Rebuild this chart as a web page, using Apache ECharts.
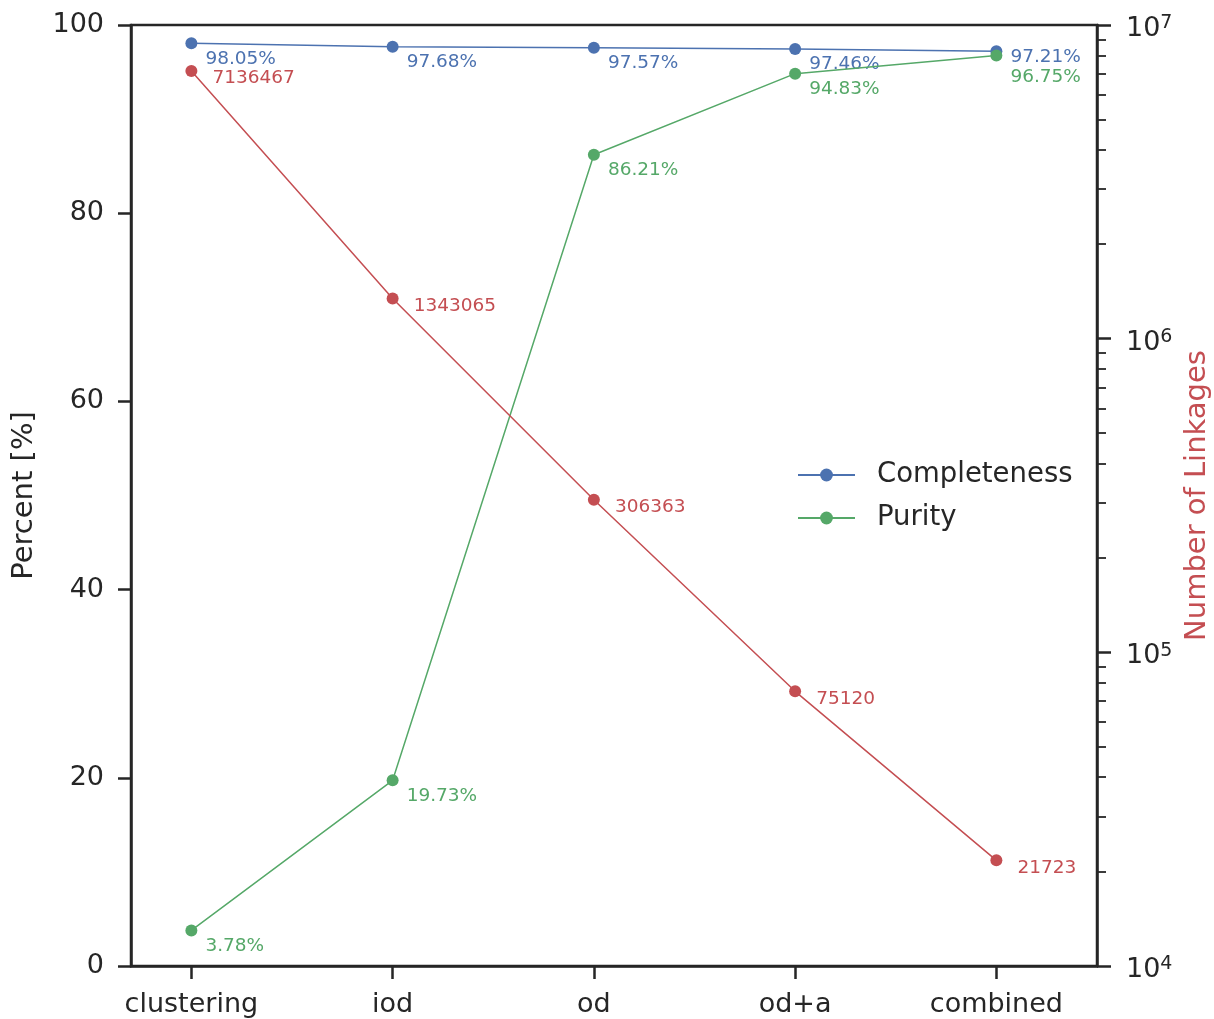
<!DOCTYPE html>
<html>
<head>
<meta charset="utf-8">
<script src="https://cdn.jsdelivr.net/npm/echarts@6/dist/echarts.min.js"></script>
<style>
  html, body { margin: 0; padding: 0; background: #ffffff; }
  #chart { width: 1214px; height: 1019px; }
</style>
</head>
<body>
<div id="chart"></div>
<script>
// Pipeline stages along the x axis
const stages = ['clustering', 'iod', 'od', 'od+a', 'combined'];
// Percentages per stage
const completeness = [98.05, 97.68, 97.57, 97.46, 97.21];
const purity = [3.78, 19.73, 86.21, 94.83, 96.75];
// Number of linkages per stage (log scale, right axis)
const linkages = [7136467, 1343065, 306363, 75120, 21723];
// Tick values
const percentTicks = [0, 20, 40, 60, 80, 100];
const logMajorTicks = [1e4, 1e5, 1e6, 1e7];
const logMinorTicks = [];
[1e4, 1e5, 1e6].forEach(function (d) {
  for (let k = 2; k <= 9; k++) logMinorTicks.push(k * d);
});

const INK = '#262626';
const BLUE = '#4C72B0';
const GREEN = '#55A868';
const RED = '#C44E52';
const FONT = 'DejaVu Sans';
const LABEL_SIZE = 18.5;

const stageIdx = stages.map(function (_, i) { return i; });

// Annotation offsets (relative to the marker box); the last stage is nudged
// so the two close percentages don't collide.
const pctOffset = [20, 21.5];
const pctOffsetLast = { Completeness: [20, 12], Purity: [20, 27.5] };

const pctPoints = function (arr, name) {
  return arr.map(function (v, i) {
    const item = { value: [i, v] };
    if (i === arr.length - 1 && pctOffsetLast[name]) {
      item.label = { position: pctOffsetLast[name] };
    }
    return item;
  });
};

const pctLabel = function (color) {
  return {
    show: true,
    position: pctOffset,
    align: 'left',
    verticalAlign: 'middle',
    color: color,
    fontFamily: FONT,
    fontSize: LABEL_SIZE,
    formatter: function (p) { return p.value[1].toFixed(2) + '%'; }
  };
};

const logLabelFmt = function (v) {
  return '{b|10}{s|' + Math.round(Math.log10(v)) + '}';
};

const chart = echarts.init(document.getElementById('chart'), null, { renderer: 'canvas' });

chart.setOption({
  animation: false,
  backgroundColor: '#ffffff',
  textStyle: { fontFamily: FONT, color: INK },
  grid: {
    left: 131, right: 117, top: 25, bottom: 53,
    outerBoundsMode: 'none',
    containLabel: false,
    show: true, borderColor: INK, borderWidth: 2.5, backgroundColor: 'transparent'
  },
  legend: {
    orient: 'vertical',
    left: 792,
    top: 456,
    itemWidth: 57,
    itemHeight: 16,
    itemGap: 15,
    data: ['Completeness', 'Purity'],
    textStyle: { fontFamily: FONT, fontSize: 27.5, color: INK, padding: [0, 0, 0, 17] }
  },
  xAxis: {
    type: 'value',
    min: -0.3,
    max: 4.5,
    splitLine: { show: false },
    axisLine: { show: true, onZero: false, lineStyle: { color: INK, width: 2.5 } },
    axisTick: { show: true, length: 13, customValues: stageIdx, lineStyle: { color: INK, width: 2.5 } },
    axisLabel: {
      customValues: stageIdx,
      margin: 25,
      fontFamily: FONT,
      fontSize: 27,
      color: INK,
      formatter: function (v) { return stages[Math.round(v)]; }
    }
  },
  yAxis: [
    {
      type: 'value',
      min: 0,
      max: 100,
      interval: 20,
      position: 'left',
      name: 'Percent [%]',
      nameLocation: 'middle',
      nameRotate: 90,
      nameGap: 92,
      nameTextStyle: { fontFamily: FONT, fontSize: 29, color: INK },
      splitLine: { show: false },
      axisLine: { show: true, onZero: false, lineStyle: { color: INK, width: 2.5 } },
      axisTick: { show: true, length: 13, customValues: percentTicks, lineStyle: { color: INK, width: 2.5 } },
      axisLabel: { margin: 27, padding: [4, 0, 0, 0], fontFamily: FONT, fontSize: 27, color: INK }
    },
    {
      type: 'log',
      logBase: 10,
      min: 1e4,
      max: 1e7,
      position: 'right',
      name: 'Number of Linkages',
      nameLocation: 'middle',
      nameRotate: 90,
      nameGap: 86,
      nameTextStyle: { fontFamily: FONT, fontSize: 29, color: RED },
      splitLine: { show: false },
      axisLine: { show: true, onZero: false, lineStyle: { color: INK, width: 2.5 } },
      axisTick: { show: true, length: 14, customValues: logMajorTicks, lineStyle: { color: INK, width: 2.5 } },
      axisLabel: {
        customValues: logMajorTicks,
        margin: 29,
        padding: [8, 0, 0, 0],
        formatter: logLabelFmt,
        rich: {
          b: { fontFamily: FONT, fontSize: 27, color: INK, lineHeight: 30 },
          s: { fontFamily: FONT, fontSize: 19, color: INK, verticalAlign: 'top', lineHeight: 30, padding: [0, 0, 14, 0] }
        }
      }
    },
    {
      // minor ticks of the log axis
      type: 'log',
      logBase: 10,
      min: 1e4,
      max: 1e7,
      position: 'right',
      splitLine: { show: false },
      axisLine: { show: false, onZero: false },
      axisTick: { show: true, length: 9, customValues: logMinorTicks, lineStyle: { color: INK, width: 1.8 } },
      axisLabel: { show: false }
    }
  ],
  series: [
    {
      name: 'Completeness',
      type: 'line',
      yAxisIndex: 0,
      data: pctPoints(completeness, 'Completeness'),
      symbol: 'circle',
      symbolSize: 12,
      lineStyle: { color: BLUE, width: 1.5 },
      itemStyle: { color: BLUE },
      label: pctLabel(BLUE),
      labelLayout: { hideOverlap: false },
      z: 2
    },
    {
      name: 'Purity',
      type: 'line',
      yAxisIndex: 0,
      data: pctPoints(purity, 'Purity'),
      symbol: 'circle',
      symbolSize: 12,
      lineStyle: { color: GREEN, width: 1.5 },
      itemStyle: { color: GREEN },
      label: pctLabel(GREEN),
      labelLayout: { hideOverlap: false },
      z: 3
    },
    {
      name: 'Linkages',
      type: 'line',
      yAxisIndex: 1,
      data: linkages.map(function (v, i) { return [i, v]; }),
      symbol: 'circle',
      symbolSize: 12,
      lineStyle: { color: RED, width: 1.5 },
      itemStyle: { color: RED },
      label: {
        show: true,
        position: [27, 13.5],
        align: 'left',
        verticalAlign: 'middle',
        color: RED,
        fontFamily: FONT,
        fontSize: LABEL_SIZE,
        formatter: function (p) { return String(p.value[1]); }
      },
      z: 4
    }
  ]
});
</script>
</body>
</html>
